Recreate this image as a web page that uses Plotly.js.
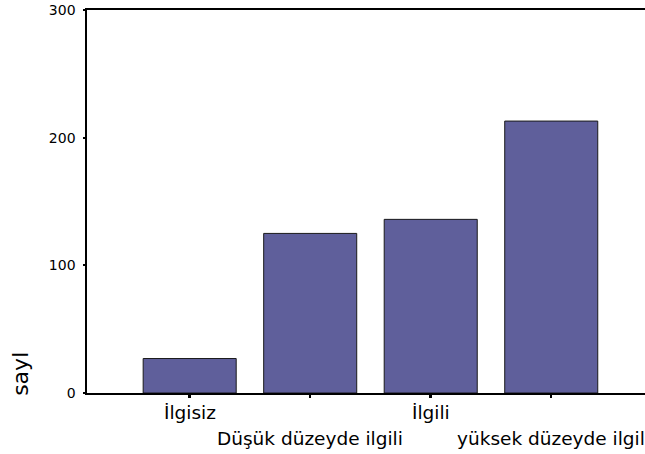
<!DOCTYPE html>
<html><head><meta charset="utf-8">
<script src="https://cdn.plot.ly/plotly-3.0.1.min.js"></script>
<style>html,body{margin:0;padding:0;background:#fff}</style>
</head><body><div id="chart" style="width:645px;height:454px"></div>
<script>
const categories = ["İlgisiz", "Düşük düzeyde ilgili", "İlgili", "yüksek düzeyde ilgil"];
const counts = [27, 125, 136, 213];
const yTickVals = [0, 100, 200, 300];
const yTickText = ["0", "100", "200", "300"];
const labelRows = [0, 1, 0, 1];
const yTitleText = "sayI";

const xIdx = categories.map((c, i) => i);
const FONT = "DejaVu Sans, Verdana, sans-serif";

const trace = {
  type: "bar",
  x: xIdx,
  y: counts,
  marker: { color: "#5f5f9b", line: { color: "#1a1a1a", width: 1 } },
  hoverinfo: "skip"
};

const annotations = categories.map((c, i) => ({
  text: c, x: i, xref: "x", y: 0, yref: "paper",
  xanchor: "center", yanchor: "top",
  yshift: labelRows[i] === 0 ? -6.5 : -32.5,
  showarrow: false,
  font: { family: FONT, size: 18.5, color: "#000" }
}));
annotations.push({
  text: yTitleText, textangle: -90,
  x: 0, xref: "paper", xanchor: "center", xshift: -66,
  y: 0.05, yref: "paper", yanchor: "middle",
  showarrow: false,
  font: { family: FONT, size: 22, color: "#000" }
});

const layout = {
  width: 645, height: 454,
  margin: { l: 87, r: 0, t: 10, b: 61, pad: 0 },
  paper_bgcolor: "#fff", plot_bgcolor: "#fff",
  showlegend: false,
  bargap: 0.228,
  font: { family: FONT, color: "#000" },
  xaxis: {
    range: [-0.852, 3.778],
    tickvals: xIdx, ticktext: categories.map(() => ""),
    showticklabels: false,
    ticks: "outside", ticklen: 3, tickwidth: 2.5, tickcolor: "#000",
    showline: true, linecolor: "#000", linewidth: 1.8, mirror: true,
    showgrid: false, zeroline: false, fixedrange: true
  },
  yaxis: {
    range: [0, 300],
    tickvals: yTickVals, ticktext: yTickText,
    ticks: "outside", ticklen: 2, tickwidth: 2, tickcolor: "#000",
    ticklabelstandoff: 5,
    tickfont: { family: FONT, size: 14, color: "#000" },
    showline: true, linecolor: "#000", linewidth: 1.6,
    showgrid: false, zeroline: false, fixedrange: true
  },
  annotations: annotations
};

Plotly.newPlot("chart", [trace], layout, { staticPlot: true, displayModeBar: false });
</script>
</body></html>
